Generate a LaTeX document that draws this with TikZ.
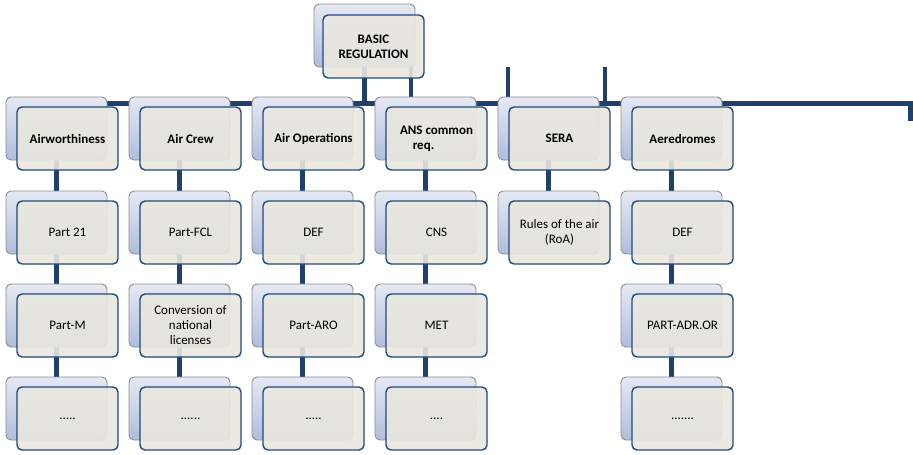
\documentclass[tikz,border=0pt]{standalone}
\usepackage{fontspec}
\setmainfont{Carlito}
\usetikzlibrary{backgrounds}
\definecolor{lineblue}{HTML}{1F3F6F}
\definecolor{frontblue}{HTML}{22497E}
\definecolor{frontfill}{HTML}{E9E7DE}
\definecolor{backgray}{HTML}{8C8C8C}
\definecolor{backtop}{HTML}{E6E9F4}
\definecolor{backbot}{HTML}{AFBDDC}
\newcommand{\pairbox}[5]{% name, x, y, style, text
  \node[backbox] (#1b) at (#2,#3) {};
  \node[#4] (#1) at (#2+11,#3+10) {#5};
}
\begin{document}
\begin{tikzpicture}[x=1pt,y=-1pt,
  backbox/.style={draw=backgray, line width=0.9pt, rounded corners=5pt,
    top color=backtop, bottom color=backbot, minimum width=101pt,
    minimum height=63pt, anchor=north west, inner sep=0pt, outer sep=0pt},
  frontbox/.style={draw=frontblue, line width=1.4pt, rounded corners=5pt,
    fill=frontfill, fill opacity=0.9, text opacity=1, minimum width=101pt,
    minimum height=63pt, anchor=north west, inner sep=0pt, outer sep=0pt,
    align=center, font=\fontsize{13}{15}\selectfont},
  hdbox/.style={frontbox, font=\bfseries\fontsize{13}{15}\selectfont},
  conn/.style={draw=lineblue, line width=4.5pt}]
\useasboundingbox (0,0) rectangle (913,455);

% top
\node[backbox] (topb) at (314,4) {};
\node[hdbox] (top) at (323,15) {BASIC\\REGULATION};

% row 1
\pairbox{a1}{6}{97}{hdbox}{Airworthiness}
\pairbox{b1}{129}{97}{hdbox}{Air Crew}
\pairbox{c1}{252}{97}{hdbox}{Air Operations}
\pairbox{d1}{375}{97}{hdbox}{ANS common\\req.\hspace*{26pt}}
\pairbox{e1}{498}{97}{hdbox}{SERA}
\pairbox{f1}{621}{97}{hdbox}{Aeredromes}

% row 2
\pairbox{a2}{6}{191}{frontbox}{Part 21}
\pairbox{b2}{129}{191}{frontbox}{Part-FCL}
\pairbox{c2}{252}{191}{frontbox}{DEF}
\pairbox{d2}{375}{191}{frontbox}{CNS}
\pairbox{e2}{498}{191}{frontbox}{Rules of the air\\(RoA)}
\pairbox{f2}{621}{191}{frontbox}{DEF}

% row 3
\pairbox{a3}{6}{284}{frontbox}{Part-M}
\pairbox{b3}{129}{284}{frontbox}{Conversion of\\national\\licenses}
\pairbox{c3}{252}{284}{frontbox}{Part-ARO}
\pairbox{d3}{375}{284}{frontbox}{MET}
\pairbox{f3}{621}{284}{frontbox}{PART-ADR.OR}

% row 4
\pairbox{a4}{6}{377}{frontbox}{.....}
\pairbox{b4}{129}{377}{frontbox}{......}
\pairbox{c4}{252}{377}{frontbox}{.....}
\pairbox{d4}{375}{377}{frontbox}{....}
\pairbox{f4}{621}{377}{frontbox}{.......}

\coordinate (hL) at (56.5,103.5);
\coordinate (hR) at (910.5,103.5);
\coordinate (hE) at (910.5,121);
\coordinate (v1) at (508,67);
\coordinate (v2) at (605,67);

\begin{scope}[on background layer]
  \draw[conn] (hL) -- (hR) -- (hE);
  \draw[conn] (topb.south) -- (topb.south |- hL);
  \draw[conn] ([xshift=46.5pt]topb.south) -- ([xshift=46.5pt]topb.south |- hL);
  \draw[conn] (v1) -- (v1 |- hL);
  \draw[conn] (v2) -- (v2 |- hL);
  \foreach \c in {a,b,c,d,e,f}{
    \draw[conn] (\c1b.north) -- (\c1b.north |- hL);
  }
  \foreach \c in {a,b,c,d,f}{
    \draw[conn] (\c1b.south) -- (\c2b.north);
    \draw[conn] (\c2b.south) -- (\c3b.north);
    \draw[conn] (\c3b.south) -- (\c4b.north);
  }
  \draw[conn] (e1b.south) -- (e2b.north);
\end{scope}
\end{tikzpicture}
\end{document}
